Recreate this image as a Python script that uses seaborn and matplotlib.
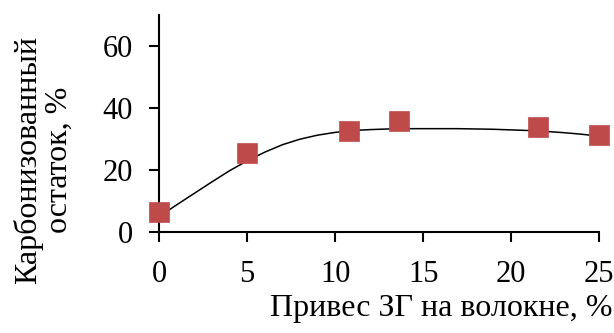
import matplotlib
matplotlib.use("Agg")
import matplotlib.pyplot as plt
import seaborn as sns
import pandas as pd

# measured points
x_points = [0, 5, 10.8, 13.6, 21.5, 25]
y_points = [6.5, 25.5, 32.8, 35.8, 33.8, 31.5]

# trend curve
x_curve = [0, 1, 2, 3, 4, 5, 6, 7, 8, 9, 10, 11, 12, 13, 14, 15, 16, 17, 18, 19, 20, 21, 22, 23, 24, 25]
y_curve = [5.0, 8.8, 12.5, 16.2, 19.8, 23.0, 25.8, 28.2, 30.0, 31.3, 32.2, 32.8, 33.1, 33.3, 33.4, 33.4, 33.4, 33.4, 33.3, 33.2, 33.0, 32.8, 32.5, 32.1, 31.6, 31.0]

x_ticks = [0, 5, 10, 15, 20, 25]
y_ticks = [0, 20, 40, 60]
x_label = "Привес ЗГ на волокне, %"
y_label = "Карбонизованный\nостаток, %"

sns.set_style("white")
plt.rcParams['font.family'] = ['Liberation Serif', 'DejaVu Serif']

fig = plt.figure(figsize=(6.14, 3.33), dpi=100)
ax = fig.add_axes([0.259, 0.303, 0.717, 0.651])

df_curve = pd.DataFrame({"x": x_curve, "y": y_curve})
df_pts = pd.DataFrame({"x": x_points, "y": y_points})

sns.lineplot(data=df_curve, x="x", y="y", ax=ax, color="black", linewidth=1.1)
sns.scatterplot(data=df_pts, x="x", y="y", ax=ax, marker="s", s=210,
                color="#BE4B4A", edgecolor="#BE4B4A", linewidth=0.5, zorder=3, clip_on=False)

ax.set_xlim(0, 25)
ax.set_ylim(0, 70)
ax.set_xticks(x_ticks)
ax.set_yticks(y_ticks)
ax.tick_params(axis="both", labelsize=22, direction="out", length=7, width=1.5,
               color="black", labelcolor="black", bottom=True, left=True)
ax.tick_params(axis="y", pad=12)
ax.tick_params(axis="x", pad=13)
for side in ["top", "right"]:
    ax.spines[side].set_visible(False)
for side in ["left", "bottom"]:
    ax.spines[side].set_color("black")
    ax.spines[side].set_linewidth(1.5)

ax.set_xlabel("")
ax.set_ylabel("")
fig.text(0.997, 0.075, x_label, ha="right", va="center", fontsize=23, color="black")
fig.text(0.071, 0.52, y_label, ha="center", va="center", rotation=90,
         fontsize=23, color="black", linespacing=1.1, multialignment="center")

fig.savefig("out.png", dpi=100)
